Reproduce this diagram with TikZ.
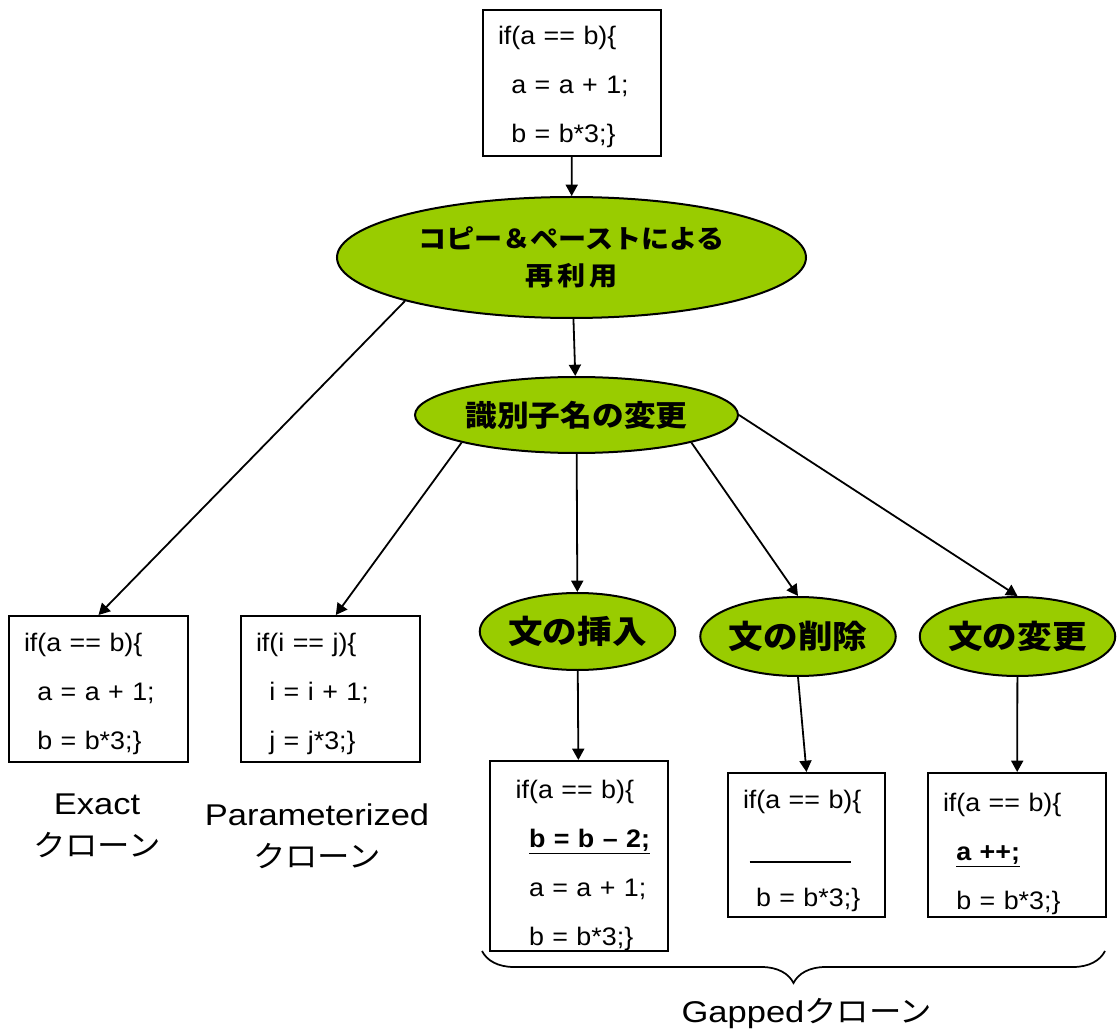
\documentclass[tikz,border=0pt]{standalone}
\usepackage{fontspec}
\setmainfont{Liberation Sans}[FakeStretch=1.06]
\newfontfamily\lbl{Liberation Sans}[FakeStretch=1.15]
\newfontfamily\jp{Noto Sans CJK JP}[FakeStretch=1.08]
\usetikzlibrary{shapes.geometric,arrows.meta,decorations.pathreplacing}
\definecolor{leaf}{HTML}{99CC00}
\newcommand{\ind}{\hspace*{10pt}}
\tikzset{
	codebox/.style={draw, line width=1.5pt, anchor=north west, align=left, inner xsep=11.25pt, inner ysep=0pt, text height=26.25pt, font=\fontsize{19}{36.75}\selectfont},
	phase/.style={ellipse, draw, line width=1.5pt, fill=leaf, inner sep=0pt, align=center},
	flow/.style={-{Triangle[length=8.5pt,width=9pt]}, line width=1.35pt},
	cloneLabel/.style={align=center, font=\lbl\fontsize{22.5}{31.5}\selectfont}
}

\begin{document}
\begin{tikzpicture}[x=0.75pt, y=-0.75pt]
	\useasboundingbox (0,0) rectangle (1118,1034);

	\node[codebox, text width=111pt, text depth=83.25pt] (src) at (482,9) {if(a == b)\{\\ \ind a = a + 1;\\ \ind b = b*3;\}};

	\node[phase, minimum width=351.75pt, minimum height=90.75pt, font=\jp\bfseries\fontsize{19.5}{27.75}\selectfont] (reuse) at (571.5,257.5) {コピー＆ペーストによる\\再\,利\,用};
	\node[phase, minimum width=242.25pt, minimum height=57pt, font=\jp\bfseries\fontsize{22}{26}\selectfont] (ren) at (576.5,415) {識別子名の変更};

	\node[codebox, text width=111.75pt, text depth=83.25pt] (exact) at (8,615) {if(a == b)\{\\ \ind a = a + 1;\\ \ind b = b*3;\}};
	\node[codebox, text width=111.75pt, text depth=83.25pt] (param) at (240,615) {if(i == j)\{\\ \ind i = i + 1;\\ \ind j = j*3;\}};

	\node[cloneLabel] (exactlbl) at (97,826) {Exact\\{\jp クローン}};
	\node[cloneLabel] (paramlbl) at (317,836) {Parameterized\\{\jp クローン}};

	\node[phase, minimum width=141.75pt, minimum height=57.75pt, font=\jp\bfseries\fontsize{24}{28}\selectfont] (ins) at (577.5,631.5) {文の挿入};
	\node[phase, minimum width=142.5pt, minimum height=59.25pt, font=\jp\bfseries\fontsize{24}{28}\selectfont] (del) at (798,636.5) {文の削除};
	\node[phase, minimum width=140.25pt, minimum height=59.25pt, font=\jp\bfseries\fontsize{24}{28}\selectfont] (chg) at (1017.5,636.5) {文の変更};

	\node[codebox, text width=111pt, text height=27.75pt, text depth=114.75pt] (insbox) at (489,760) {\hspace*{8pt}if(a == b)\{\\ \hspace*{18pt}\underline{\textbf{b = b – 2;}}\\ \hspace*{18pt}a = a + 1;\\ \hspace*{18pt}b = b*3;\}};
	\node[codebox, text width=95.25pt, text depth=81.75pt] (delbox) at (727,772) {if(a == b)\{\\ \hspace*{5pt}\rule[-4.5pt]{75.75pt}{1.5pt}\\ \hspace*{9.75pt}b = b*3;\}};
	\node[codebox, text width=111pt, text height=28.5pt, text depth=79.5pt] (chgbox) at (927,772) {if(a == b)\{\\ \ind\underline{\textbf{a ++;}}\\ \ind b = b*3;\}};

	\draw[flow] (src) -- (reuse);
	\draw[flow] (reuse) -- (ren);
	\draw[flow] (reuse.south west) -- (exact.north);
	\draw[flow] (ren.south west) -- ([xshift=4pt]param.north);
	\draw[flow] (ren) -- (ins);
	\draw[flow] (ren.south east) -- (del.north);
	\draw[flow] (ren.east) -- (chg.north);
	\draw[flow] (ins) -- (insbox);
	\draw[flow] (del.south) -- (delbox.north);
	\draw[flow] (chg) -- (chgbox);

	\coordinate (gapl) at (482,951);
	\coordinate (gapr) at (1105,951);
	\draw[line width=1.3pt, decorate, decoration={brace, mirror, amplitude=24pt}] (gapl) -- (gapr);
	\node[cloneLabel] (gaplbl) at (807,1014) {Gapped{\jp クローン}};
\end{tikzpicture}
\end{document}
